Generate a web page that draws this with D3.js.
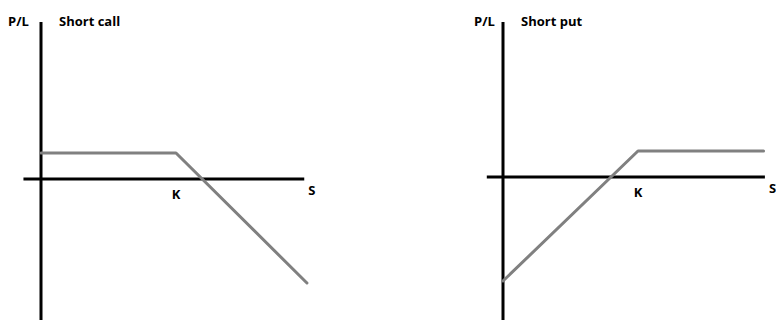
<!DOCTYPE html>
<html>
<head>
<meta charset="utf-8">
<script src="https://cdn.jsdelivr.net/npm/d3@7"></script>
<style>
  body { margin: 0; background: #fff; }
  svg { display: block; }
  text { font-family: "Open Sans", Lato, sans-serif; font-weight: bold; font-size: 13px; fill: #000; }
</style>
</head>
<body>
<svg id="chart"></svg>
<script>
var width = 776;
var height = 320;

// payoff points (S, P/L), strike K = 100, premium = 20
var callS = [0, 100, 197];
var callPL = [20, 20, -80];
var putS = [0, 100, 193];
var putPL = [-80, 20, 20];

var titles = ["Short call", "Short put"];
var strikeLabel = "K";
var xLabel = "S";
var yLabel = "P/L";

var svg = d3.select("#chart")
    .attr("width", width)
    .attr("height", height);

var panels = [
  { title: titles[0], s: callS, pl: callPL, ox: 41, oy: 179, sMin: -13, sMax: 195, yLabelX: 8 },
  { title: titles[1], s: putS, pl: putPL, ox: 503, oy: 177, sMin: -12, sMax: 194, yLabelX: 474 }
];

panels.forEach(function(p) {
  var x = d3.scaleLinear().domain([0, 100]).range([p.ox, p.ox + 135]);
  var y = d3.scaleLinear().domain([0, 20]).range([p.oy, p.oy - 26]);

  var g = svg.append("g");

  // axes
  g.append("line")
    .attr("x1", x(p.sMin)).attr("x2", x(p.sMax))
    .attr("y1", y(0)).attr("y2", y(0))
    .attr("stroke", "#000").attr("stroke-width", 3);

  g.append("line")
    .attr("x1", x(0)).attr("x2", x(0))
    .attr("y1", 22).attr("y2", height)
    .attr("stroke", "#000").attr("stroke-width", 3);

  // payoff line
  var line = d3.line()
    .x(function(d) { return x(d[0]); })
    .y(function(d) { return y(d[1]); });

  g.append("path")
    .datum(d3.zip(p.s, p.pl))
    .attr("d", line)
    .attr("fill", "none")
    .attr("stroke", "#808080")
    .attr("stroke-width", 3)
    .attr("stroke-linejoin", "round")
    .attr("stroke-linecap", "round");

  // labels
  g.append("text")
    .attr("x", p.yLabelX).attr("y", 26)
    .text(yLabel);

  g.append("text")
    .attr("x", x(0) + 18).attr("y", 26)
    .text(p.title);

  g.append("text")
    .attr("x", x(100)).attr("y", y(0) + 20)
    .attr("text-anchor", "middle")
    .text(strikeLabel);

  g.append("text")
    .attr("x", x(p.sMax) + 4).attr("y", y(0) + 16)
    .text(xLabel);
});
</script>
</body>
</html>
